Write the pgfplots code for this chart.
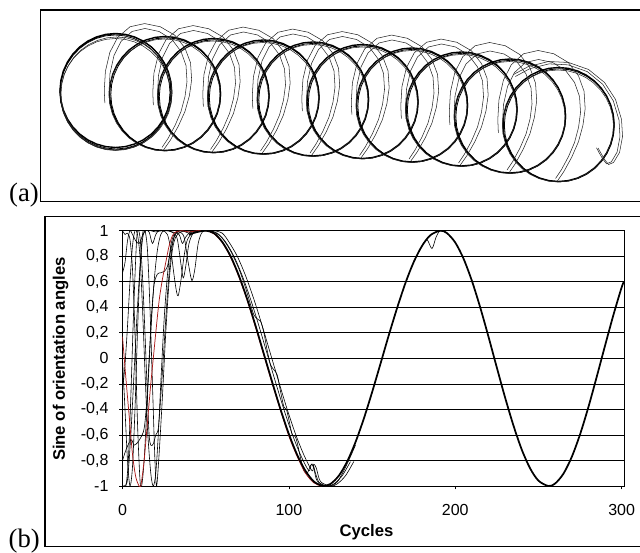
\documentclass[border=0pt]{standalone}
\usepackage{pgfplots}
\pgfplotsset{compat=1.18}
\usepackage{pgfplotstable}
\usepackage{fontspec}
\setmainfont{Liberation Sans}
\newfontfamily\tnr{Liberation Serif}
\definecolor{dred}{RGB}{170,25,25}

% unit circle (10 degree steps)
\pgfplotstableread{
x y
1 0
0.9848 0.1736
0.9397 0.3420
0.8660 0.5
0.7660 0.6428
0.6428 0.7660
0.5 0.8660
0.3420 0.9397
0.1736 0.9848
0 1
-0.1736 0.9848
-0.3420 0.9397
-0.5 0.8660
-0.6428 0.7660
-0.7660 0.6428
-0.8660 0.5
-0.9397 0.3420
-0.9848 0.1736
-1 0
-0.9848 -0.1736
-0.9397 -0.3420
-0.8660 -0.5
-0.7660 -0.6428
-0.6428 -0.7660
-0.5 -0.8660
-0.3420 -0.9397
-0.1736 -0.9848
0 -1
0.1736 -0.9848
0.3420 -0.9397
0.5 -0.8660
0.6428 -0.7660
0.7660 -0.6428
0.8660 -0.5
0.9397 -0.3420
0.9848 -0.1736
1 0
}\unitcirc

% thin transition loop, offsets from the centre of the next circle (px)
\pgfplotstableread{
x y
-3 54
3 45
10 32
16 18
20 3
22 -12
21 -28
16 -42
7 -54
-6 -62
-20 -65
-33 -62
-44 -52
-51 -38
-55 -20
-56 -2
-55.5 10
}\transloop

% final tail around the last circle
\pgfplotstableread{
x y
-45 -50
-30 -58
-10 -63
10 -62
30 -55
46 -42
57 -25
63 -5
64 12
61 28
55 38
50 40
46 35
42 28
39.5 23.5
}\tailloop

\pgfplotstableread{
x y
40 0.97
45 0.99
50 1.0
55 0.98
60 0.911
65 0.799
70 0.646
75 0.462
80 0.254
85 0.033
90 -0.187
95 -0.400
100 -0.593
105 -0.756
110 -0.882
115 -0.965
120 -0.999
121 -1
125 -0.984
130 -0.920
135 -0.809
140 -0.658
145 -0.474
150 -0.266
155 -0.045
160 0.179
165 0.392
170 0.588
175 0.753
180 0.880
185 0.964
191 1
195 0.981
200 0.907
205 0.780
210 0.607
215 0.399
220 0.168
225 -0.073
230 -0.309
235 -0.527
240 -0.716
245 -0.862
250 -0.958
256 -1
260 -0.981
265 -0.904
270 -0.773
275 -0.596
280 -0.383
285 -0.146
290 0.098
295 0.337
300 0.556
301.4 0.60
}\maincurve

\newcommand\ring[5]{\addplot[#5] table[x expr={#1+#3*\thisrow{x}}, y expr={#2+#4*\thisrow{y}}]{\unitcirc};}
\newcommand\trans[5]{\addplot[#5] table[x expr={#1+#3*\thisrow{x}}, y expr={#2+#4*\thisrow{y}}]{\transloop};}
\newcommand\tail[5]{\addplot[#5] table[x expr={#1+#3*\thisrow{x}}, y expr={#2+#4*\thisrow{y}}]{\tailloop};}

\begin{document}
\begin{tikzpicture}
\useasboundingbox (0pt,0pt) rectangle (480pt,-414.75pt);

% ---------------- panel (a)
\begin{axis}[at={(30.525pt,-151.275pt)}, anchor=south west, scale only axis,
  width=451pt, height=143.8pt, xmin=40.7, xmax=642, ymin=10, ymax=201.7,
  y dir=reverse, ticks=none, axis line style={black, line width=0.9pt}, clip=true]
\tikzset{cthick/.style={black, line width=1.05pt}, cmid/.style={black, line width=0.6pt}, cthin/.style={black!85, line width=0.4pt}}
% circle 1 (many loops)
\ring{115.5}{90.5}{55.5}{57}{cthick}
\ring{116}{91.5}{56}{57.5}{cmid}
\ring{115}{92.5}{55}{57.5}{cmid}
\ring{116.5}{93.5}{55.5}{56.5}{cthin}
\ring{115.5}{94.5}{55}{56}{cthin}
% circles 2..10
\ring{165}{93.5}{55.5}{57}{cthick}
\ring{165.8}{94.3}{55}{56.5}{cmid}
\ring{164.5}{95}{55.5}{56}{cthin}
\ring{213.5}{95.5}{55.5}{57}{cthick}
\ring{214.3}{96.3}{55}{56.5}{cmid}
\ring{213}{97}{55.5}{56}{cthin}
\ring{263.5}{97}{55.5}{57}{cthick}
\ring{264.3}{97.8}{55}{56.5}{cmid}
\ring{263}{98.5}{55.5}{56}{cthin}
\ring{313}{99}{55.5}{57}{cthick}
\ring{313.8}{99.8}{55}{56.5}{cmid}
\ring{312.5}{100.5}{55.5}{56}{cthin}
\ring{362.5}{101.5}{55.5}{57}{cthick}
\ring{363.3}{102.3}{55}{56.5}{cmid}
\ring{362}{103}{55.5}{56}{cthin}
\ring{412}{105}{55.5}{57}{cthick}
\ring{412.8}{105.8}{55}{56.5}{cmid}
\ring{411.5}{106.5}{55.5}{56}{cthin}
\ring{461.5}{109}{55.5}{57}{cthick}
\ring{462.3}{109.8}{55}{56.5}{cmid}
\ring{461}{110.5}{55.5}{56}{cthin}
\ring{510}{116}{55.5}{57}{cthick}
\ring{510.8}{116.8}{55}{56.5}{cmid}
\ring{509.5}{117.5}{55.5}{56}{cthin}
\ring{558.5}{124.5}{55.5}{57}{cthick}
\ring{559.3}{125.3}{55}{56.5}{cmid}
\ring{558}{126}{55.5}{56}{cthin}
% thin transition loops
\trans{165}{93.5}{1}{1}{cthin}
\trans{167}{92.5}{1.12}{1.06}{cthin}
\trans{213.5}{95.5}{1}{1}{cthin}
\trans{215.5}{94.5}{1.12}{1.06}{cthin}
\trans{263.5}{97}{1}{1}{cthin}
\trans{265.5}{96}{1.12}{1.06}{cthin}
\trans{313}{99}{1}{1}{cthin}
\trans{315}{98}{1.12}{1.06}{cthin}
\trans{362.5}{101.5}{1}{1}{cthin}
\trans{364.5}{100.5}{1.12}{1.06}{cthin}
\trans{412}{105}{1}{1}{cthin}
\trans{414}{104}{1.12}{1.06}{cthin}
\trans{461.5}{109}{1}{1}{cthin}
\trans{463.5}{108}{1.12}{1.06}{cthin}
\trans{510}{116}{1}{1}{cthin}
\trans{512}{114}{1.12}{1.1}{cthin}
\trans{558.5}{124.5}{1}{1}{cthin}
\trans{560.5}{122}{1.12}{1.1}{cthin}
\tail{558.5}{124.5}{1}{1}{cthin}
\tail{558.5}{125}{0.96}{0.97}{cthin}
\end{axis}

% ---------------- panel (b) frame
\draw[black, line width=0.8pt] (483.75pt,-162.525pt) -- (33.75pt,-162.525pt) -- (33.75pt,-410.025pt) -- (483.75pt,-410.025pt);

\begin{axis}[at={(91.875pt,-364.5pt)}, anchor=south west, scale only axis,
  width=376.1pt, height=191.5pt, xmin=0, xmax=301.4, ymin=-1, ymax=1,
  xtick={0,100,200,300},
  ytick={-1,-0.8,-0.6,-0.4,-0.2,0,0.2,0.4,0.6,0.8,1},
  yticklabels={-1,{-0,8},{-0,6},{-0,4},{-0,2},0,{0,2},{0,4},{0,6},{0,8},1},
  /pgf/number format/assume math mode=true,
  xtick pos=bottom, ytick pos=left, tick align=outside, major tick length=2.5pt,
  tick style={black, line width=0.5pt},
  ymajorgrids, major grid style={black, line width=0.5pt},
  axis line style={black, line width=0.6pt},
  tick label style={font=\fontsize{12}{14}\selectfont},
  yticklabel style={xshift=-4.5pt},
  xticklabel style={yshift=-8pt},
  xlabel={Cycles}, ylabel={Sine of orientation angles},
  label style={font=\fontsize{12.5}{15}\selectfont\bfseries},
  xlabel style={at={(axis description cs:0.4865,0)}, yshift=-34.5pt, anchor=center},
  ylabel style={at={(axis description cs:-0.1236,0.497)}, anchor=center},
  clip=true]
\tikzset{tl/.style={black, line width=0.45pt, smooth, tension=0.5}}
% early curves
\addplot[tl] coordinates {(0,0.67)(1.5,0.75)(3,0.92)(4.5,1)(6,0.97)(8,0.92)(10,0.9)(12,0.96)(14,1)(17,1)(20,0.99)(24,1)(27,0.97)(29,0.85)(31,0.65)(32.5,0.52)(33.5,0.49)(35,0.6)(37,0.8)(39,0.93)(42,0.98)(46,1)(50,1)};
\addplot[tl] coordinates {(0,1)(1.5,0.97)(3,0.98)(4.5,0.93)(6,0.7)(7.5,0.2)(9,-0.5)(10.5,-0.95)(11.5,-1)(13,-0.8)(15,-0.3)(17,0.2)(19,0.6)(21,0.85)(23,0.97)(25,1)(28,1)(31,0.98)(34,0.99)(37,0.95)(39.5,0.75)(41.7,0.61)(43.5,0.7)(45.5,0.9)(48,0.99)(52,1)};
\addplot[tl] coordinates {(0,-0.26)(1.5,-0.05)(3,0.25)(4.5,0.6)(6,0.88)(7.5,1)(9,0.97)(10.5,0.8)(12,0.4)(13.5,-0.1)(15,-0.55)(17,-0.9)(18.5,-1)(20,-0.9)(21.5,-0.6)(23,-0.2)(25,0.3)(27,0.65)(29,0.88)(31,0.97)(33,0.93)(35,0.75)(36.5,0.63)(38,0.72)(40,0.9)(43,0.99)(48,1)};
\addplot[tl] coordinates {(0,-0.8)(2,-0.72)(4,-0.66)(5.5,-0.64)(7,-0.68)(9,-0.66)(11,-0.62)(13,-0.55)(14.5,-0.35)(16,0)(17.5,0.35)(19,0.58)(21,0.66)(23,0.67)(25,0.68)(27,0.72)(29,0.85)(31,0.95)(33,0.99)(36,1)(40,0.98)(44,1)(50,1)};
\addplot[tl] coordinates {(0,-1)(2,-1)(3.5,-0.8)(5,-0.3)(6.5,0.3)(8,0.8)(9,1)(10.5,0.95)(12,0.65)(13.5,0.2)(15,-0.3)(16,-0.6)(17,-0.68)(18.5,-0.67)(20,-0.6)(21.5,-0.55)(23,-0.3)(25,0.1)(27,0.5)(29,0.8)(31,0.95)(33,1)(38,1)(45,0.99)(50,1)};
\addplot[tl] coordinates {(0,0.0)(1.5,-0.4)(3,-0.8)(4.5,-1)(6,-0.85)(7.5,-0.4)(9,0.2)(10.5,0.7)(12,0.97)(13.5,1)(15,0.85)(16.5,0.4)(18,-0.2)(19.5,-0.8)(20.5,-1)(22,-0.75)(24,-0.3)(26,0.2)(28,0.6)(30,0.85)(32,0.95)(35,0.99)(40,1)(45,1)};
\addplot[tl] coordinates {(0,-1)(1,-1)(3,-0.95)(5,-0.6)(7,-0.1)(9,0.4)(11,0.8)(12.5,0.97)(14,1)(16,0.99)(18,0.9)(20,0.97)(22,1)(26,1)(30,0.99)(34,0.97)(36,0.9)(38,0.95)(42,1)(50,1)};
% lagging curve with shoulders
\addplot[tl] coordinates {(50,1)(55,0.99)(60,0.94)(65,0.84)(70,0.70)(74,0.55)(77,0.42)(79,0.34)(81,0.31)(83,0.29)(85,0.2)(87,0.06)(89,-0.05)(91,-0.09)(93,-0.13)(95,-0.26)(97,-0.38)(98.5,-0.4)(100,-0.48)(102,-0.6)(103.7,-0.61)(105,-0.66)(107,-0.78)(109,-0.88)(111,-0.9)(113,-0.84)(114.5,-0.83)(116,-0.9)(118,-0.97)(121,-1)(125,-1)(129,-0.97)(133,-0.88)(137,-0.77)(140,-0.68)};
% slightly lagging copies
\addplot[tl] coordinates {(52,1)(57,0.98)(62,0.911)(67,0.799)(72,0.646)(77,0.462)(82,0.254)(87,0.033)(92,-0.187)(97,-0.40)(102,-0.593)(107,-0.756)(112,-0.88)(113.5,-0.83)(115,-0.86)(117,-0.96)(123,-1)(127,-0.984)(132,-0.92)(137,-0.809)};
\addplot[tl] coordinates {(55,1)(60,0.98)(64,0.911)(69,0.799)(74,0.646)(79,0.462)(84,0.254)(89,0.033)(94,-0.187)(99,-0.4)(104,-0.593)(109,-0.756)(114,-0.882)(115,-0.83)(116.5,-0.86)(119,-0.965)(125,-1)(129,-0.984)(134,-0.92)(139,-0.809)};
% dip near the second peak
\addplot[tl] coordinates {(175,0.76)(180,0.88)(183,0.93)(186,0.86)(188.5,0.95)(191,1)(195,0.98)};
% red curve
\addplot[dred, line width=0.55pt, smooth, tension=0.5] coordinates {(0,0.17)(2,-0.15)(4,-0.45)(6,-0.75)(8,-0.93)(10,-1)(11,-1)(13,-0.8)(15,-0.5)(17,-0.2)(18.5,0)(20,0.2)(22,0.45)(24,0.62)(26,0.75)(28,0.88)(30,0.96)(32,0.99)(36,1)(40,0.99)(45,1)(50,1)(55,0.975)(60,0.905)(65,0.79)(70,0.635)(75,0.45)(80,0.24)(85,0.02)(90,-0.2)(95,-0.41)(100,-0.61)(105,-0.77)(110,-0.9)(115,-0.975)(120,-1)(125,-0.985)(130,-0.92)};
% main converged curve
\addplot[black, line width=1.3pt, smooth, tension=0.5] table {\maincurve};
\end{axis}

\node[anchor=base east, inner sep=0pt, font=\tnr\fontsize{20}{22}\selectfont] at (29.25pt,-151.275pt) {(a)};
\node[anchor=base east, inner sep=0pt, font=\tnr\fontsize{20}{22}\selectfont] at (30pt,-410.25pt) {(b)};
\end{tikzpicture}
\end{document}
